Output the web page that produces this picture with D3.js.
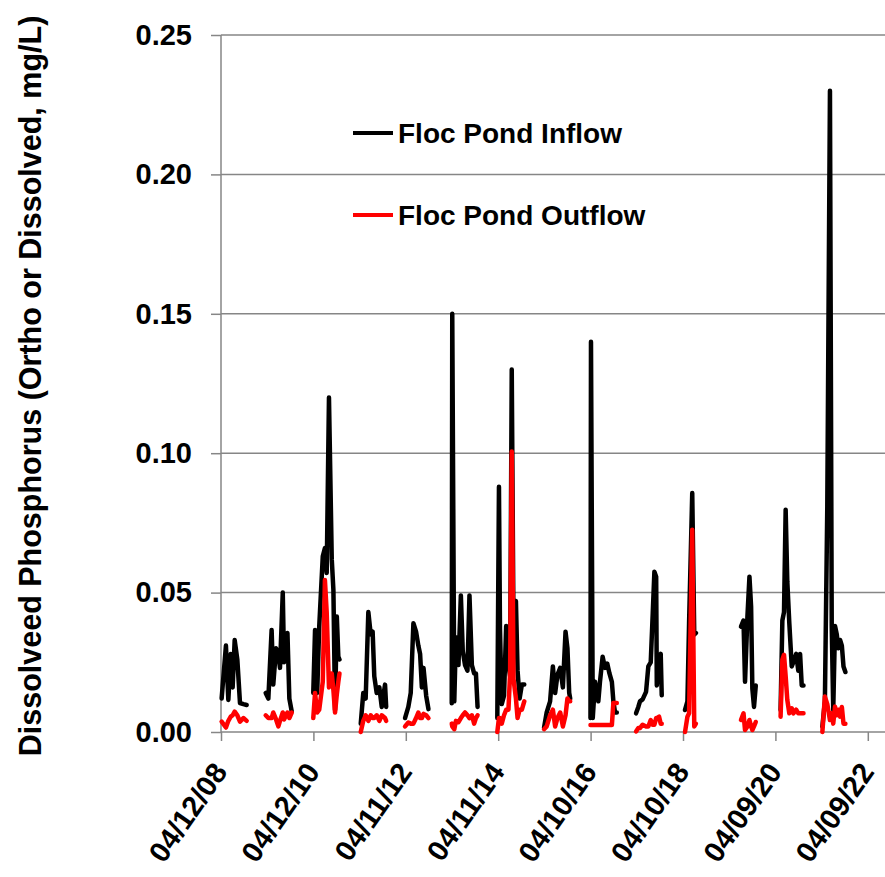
<!DOCTYPE html>
<html>
<head>
<meta charset="utf-8">
<script src="https://cdn.jsdelivr.net/npm/d3@7"></script>
<style>
  body { margin: 0; background: #fff; }
  svg { display: block; font-family: "Liberation Sans", Arial, sans-serif; font-weight: bold; }
</style>
</head>
<body>
<svg id="chart" width="885" height="877"></svg>
<script>
// sampling dates, one list per wet season
var seasonDates = [
  ["2008-04-17","2008-05-21","2008-06-09","2008-06-28","2008-07-13","2008-07-29","2008-08-19","2008-09-09","2008-10-06","2008-11-01"],
  ["2009-03-31","2009-04-21","2009-05-17","2009-05-30","2009-06-21","2009-07-09","2009-07-22","2009-08-13","2009-08-23","2009-09-19","2009-10-04","2009-10-23"],
  ["2010-04-11","2010-04-25","2010-05-12","2010-05-28","2010-06-25","2010-07-12","2010-07-26","2010-08-13","2010-09-04","2010-09-17","2010-09-30","2010-10-14","2010-10-26","2010-11-04"],
  ["2011-04-21","2011-05-11","2011-05-30","2011-06-20","2011-07-09","2011-07-24","2011-08-06","2011-08-25","2011-09-15","2011-10-04","2011-10-30","2011-11-08"],
  ["2012-04-05","2012-05-01","2012-05-20","2012-06-10","2012-07-01","2012-07-19","2012-08-02","2012-08-16","2012-08-29","2012-09-19","2012-10-07"],
  ["2013-04-09","2013-04-13","2013-04-29","2013-05-12","2013-06-01","2013-06-20","2013-07-05","2013-07-23","2013-08-11","2013-08-27","2013-09-15","2013-10-03","2013-10-17","2013-10-30"],
  ["2014-04-04","2014-04-17","2014-04-25","2014-05-09","2014-05-27","2014-06-13","2014-07-01","2014-07-14","2014-07-27","2014-08-10","2014-08-29","2014-09-11","2014-09-27","2014-10-15","2014-11-03"],
  ["2015-04-08","2015-04-29","2015-05-26","2015-06-17","2015-07-05","2015-07-23","2015-08-14","2015-09-04","2015-09-25","2015-10-10","2015-10-24","2015-11-01"],
  ["2016-04-09","2016-04-13","2016-04-27","2016-05-15","2016-06-10","2016-06-23","2016-07-14","2016-08-02","2016-08-20","2016-09-06","2016-09-25","2016-10-07","2016-10-20","2016-11-03"],
  ["2017-04-04","2017-04-22","2017-05-05","2017-05-26","2017-06-22","2017-07-10","2017-07-29","2017-08-14","2017-08-27","2017-09-10","2017-09-15","2017-10-03","2017-10-16","2017-10-24"],
  ["2018-04-26","2018-05-15","2018-05-28","2018-06-22","2018-07-08","2018-07-21"],
  ["2019-07-12","2019-08-01","2019-08-13","2019-09-01","2019-09-17","2019-09-30","2019-10-10","2019-10-23","2019-11-06"],
  ["2020-05-20","2020-06-03","2020-06-16","2020-06-29","2020-07-12","2020-07-28","2020-08-16","2020-08-29","2020-09-20","2020-10-07","2020-10-21","2020-11-03","2020-11-17"],
  ["2021-04-15","2021-05-05","2021-05-24","2021-06-14","2021-06-28","2021-07-10","2021-07-24","2021-08-07","2021-08-19","2021-09-02","2021-09-16","2021-09-29","2021-10-14"]
];

// Floc Pond Inflow, mg/L
var inflow = [
  [.012,.031,.0115,.028,.016,.033,.026,.0104,.010,.0097],
  [.014,.012,.0366,.017,.030,.028,.023,.050,.025,.0355,.012,.0073],
  [.014,.0366,.014,.0378,.063,.066,.057,.120,.062,.051,.0079,.0414,.027,.026],
  [.003,.014,.012,.043,.035,.036,.020,.014,.016,.009,.017,.009],
  [.005,.009,.014,.039,.036,.031,.028,.016,.023,.013,.0082],
  [.0103,.150,.011,.034,.024,.049,.029,.024,.022,.049,.024,.021,.021,.009],
  [.005,.088,.037,.010,.013,.038,.024,.020,.130,.036,.047,.022,.012,.017,.017],
  [.0015,.007,.011,.0235,.014,.0205,.023,.016,.036,.030,.014,.012],
  [.005,.140,.005,.018,.011,.018,.027,.023,.0245,.021,.018,.011,.007,.007],
  [.0067,.009,.011,.0117,.0144,.0235,.025,.0426,.0575,.0557,.0167,.027,.028,.0132],
  [.0079,.011,.039,.0857,.035,.0355],
  [.0378,.040,.018,.0414,.0557,.045,.0155,.009,.0167],
  [.0079,.040,.043,.0797,.054,.039,.0235,.025,.028,.022,.028,.0167,.0167],
  [.0019,.011,.081,.230,.038,.0079,.038,.035,.030,.033,.031,.0235,.0215]
];

// Floc Pond Outflow, mg/L
var outflow = [
  [.0037,.0016,.004,.0055,.006,.0073,.006,.0037,.005,.004],
  [.006,.005,.005,.007,.0045,.002,.004,.007,.0045,.007,.005,.007],
  [.005,.014,.007,.008,.018,.0545,.043,.016,.021,.015,.007,.0135,.018,.021],
  [.0,.004,.006,.004,.006,.005,.005,.006,.004,.006,.005,.004],
  [.002,.0034,.003,.003,.005,.007,.005,.005,.0065,.006,.005],
  [.003,.002,.001,.004,.0035,.005,.006,.007,.006,.005,.006,.003,.005,.006],
  [.0,.005,.005,.003,.006,.008,.008,.021,.1006,.019,.012,.005,.008,.008,.011],
  [.001,.002,.006,.008,.002,.005,.007,.002,.006,.012,.011,.011],
  [.0025,.0025,.0025,.0025,.0025,.0025,.0025,.0025,.0025,.0025,.0025,.0104,.0104,.0104],
  [.0002,.0014,.0014,.0026,.002,.002,.0043,.0026,.0026,.005,.005,.0055,.003,.003],
  [.0,.0055,.0067,.0725,.002,.003],
  [.0043,.0067,.0007,.002,.0043,.002,.0007,.002,.0036],
  [.0055,.0259,.0277,.020,.0115,.0067,.0085,.0067,.008,.0067,.0067,.0067,.0067],
  [.0,.0127,.010,.0043,.0067,.003,.0091,.006,.008,.0055,.009,.003,.003]
];

var xTickLabels = ["04/12/08","04/12/10","04/11/12","04/11/14","04/10/16","04/10/18","04/09/20","04/09/22"];
var yTicks = [0, 0.05, 0.10, 0.15, 0.20, 0.25];
var seriesNames = ["Floc Pond Inflow", "Floc Pond Outflow"];
var seriesColors = ["#000000", "#ff0000"];

var parseIso = d3.utcParse("%Y-%m-%d");
var parseTick = d3.utcParse("%m/%d/%y");
var tickDates = xTickLabels.map(parseTick);

var plotLeft = 221, plotTop = 35, plotBottom = 732, plotRight = 885;
var gridColor = "#868686";

var x = d3.scaleUtc()
  .domain([tickDates[0], tickDates[tickDates.length - 1]])
  .range([plotLeft, 867.8]);

var y = d3.scaleLinear()
  .domain([0, 0.25])
  .range([plotBottom, plotTop]);

var svg = d3.select("#chart");

// horizontal gridlines
svg.append("g")
  .selectAll("line")
  .data(yTicks.slice(1))
  .enter().append("line")
  .attr("x1", plotLeft).attr("x2", plotRight)
  .attr("y1", function(d){ return y(d); })
  .attr("y2", function(d){ return y(d); })
  .attr("stroke", gridColor)
  .attr("stroke-width", 1.5);

// y axis
var yAxis = d3.axisLeft(y)
  .tickValues(yTicks)
  .tickSize(10)
  .tickPadding(19)
  .tickFormat(d3.format(".2f"));

var gy = svg.append("g")
  .attr("transform", "translate(" + plotLeft + ",0)")
  .call(yAxis);
gy.select(".domain").remove();
gy.selectAll(".tick line").attr("stroke", gridColor).attr("stroke-width", 1.5);
gy.selectAll(".tick text")
  .attr("fill", "#000")
  .style("font-size", "29px")
  .style("font-family", "'Liberation Sans', Arial, sans-serif")
  .style("font-weight", "bold");
gy.append("line")
  .attr("x1", 0).attr("x2", 0)
  .attr("y1", plotTop).attr("y2", plotBottom)
  .attr("stroke", gridColor).attr("stroke-width", 1.5);

// x axis
var xAxis = d3.axisBottom(x)
  .tickValues(tickDates)
  .tickSize(9)
  .tickFormat(d3.utcFormat("%m/%d/%y"));

var gx = svg.append("g")
  .attr("transform", "translate(0," + plotBottom + ")")
  .call(xAxis);
gx.select(".domain").remove();
gx.selectAll(".tick line").attr("stroke", gridColor).attr("stroke-width", 1.5);
gx.selectAll(".tick text")
  .attr("x", 0).attr("y", 0).attr("dy", 0)
  .attr("text-anchor", "end")
  .attr("transform", "translate(7,40) rotate(-55)")
  .attr("fill", "#000")
  .style("font-size", "29px")
  .style("font-family", "'Liberation Sans', Arial, sans-serif")
  .style("font-weight", "bold");
gx.append("line")
  .attr("x1", plotLeft).attr("x2", plotRight)
  .attr("y1", 0).attr("y2", 0)
  .attr("stroke", gridColor).attr("stroke-width", 1.5);

// y title
svg.append("text")
  .attr("transform", "translate(41,386) rotate(-90)")
  .attr("text-anchor", "middle")
  .style("font-size", "30.5px")
  .text("Dissolveed Phosphorus (Ortho or Dissolved, mg/L)");

// data lines, inflow first so outflow sits on top
var line = d3.line()
  .x(function(d){ return x(d.date); })
  .y(function(d){ return y(d.value); });

[inflow, outflow].forEach(function(series, si){
  var g = svg.append("g").attr("class", "series");
  series.forEach(function(vals, k){
    var pts = vals.map(function(v, i){ return {date: parseIso(seasonDates[k][i]), value: v}; });
    g.append("path")
      .datum(pts)
      .attr("d", line)
      .attr("fill", "none")
      .attr("stroke", seriesColors[si])
      .attr("stroke-width", 4.5)
      .attr("stroke-linejoin", "round")
      .attr("stroke-linecap", "round");
  });
});

// legend
var legend = svg.append("g")
  .selectAll("g")
  .data(seriesNames)
  .enter().append("g")
  .attr("transform", function(d, i){ return "translate(353," + (133 + i * 82) + ")"; });

legend.append("line")
  .attr("x1", 0).attr("x2", 40)
  .attr("y1", 0).attr("y2", 0)
  .attr("stroke", function(d, i){ return seriesColors[i]; })
  .attr("stroke-width", 4);

legend.append("text")
  .attr("x", 45).attr("y", 10)
  .style("font-size", "28px")
  .text(function(d){ return d; });
</script>
</body>
</html>
